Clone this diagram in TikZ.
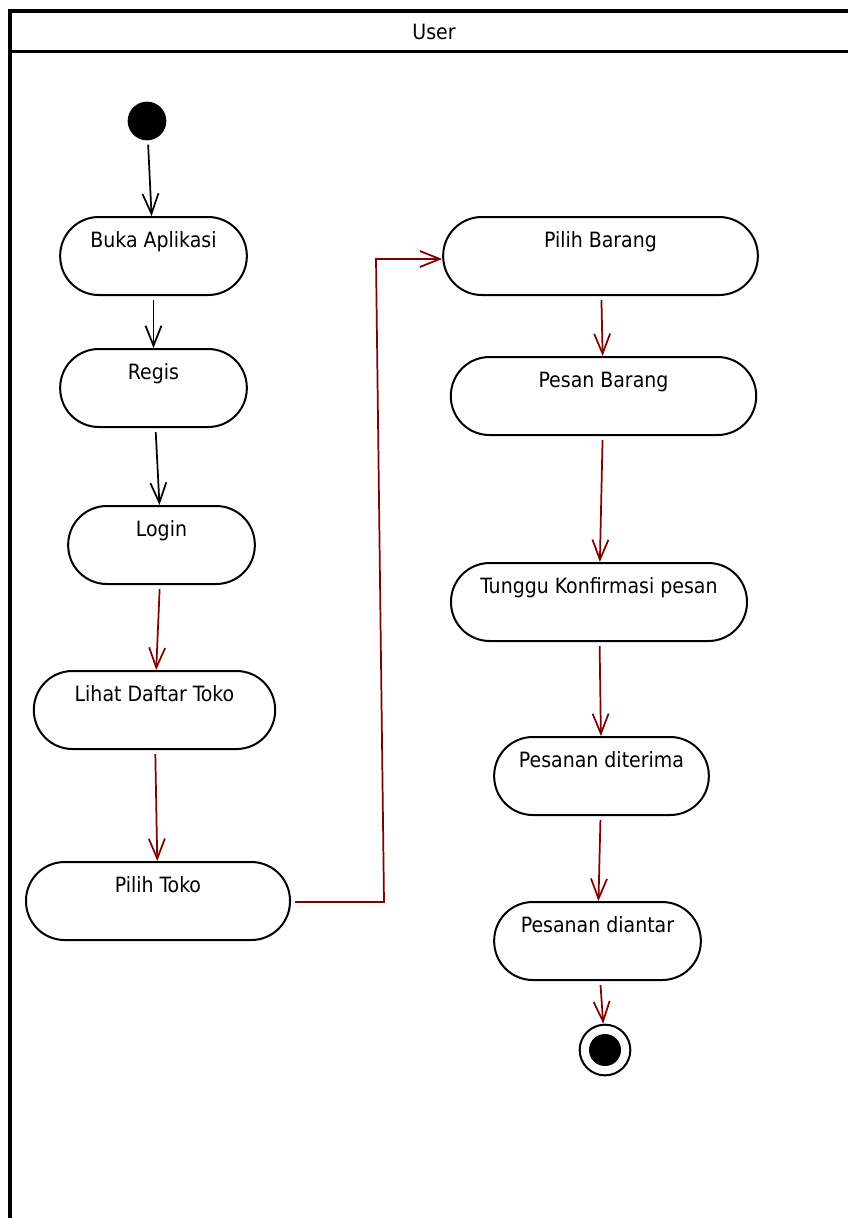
\documentclass[tikz,border=0pt]{standalone}
\usepackage{fontspec}
\setmainfont{DejaVu Sans Condensed}
\usetikzlibrary{arrows.meta}
\definecolor{flowred}{RGB}{128,0,0}

\begin{document}
\begin{tikzpicture}[
    x=0.75pt, y=-0.75pt,
    act/.style={draw, line width=1.5pt, rounded corners=29pt,
                minimum height=58.5pt, inner sep=0pt,
                text height=11pt, text depth=24pt,
                font=\fontsize{15.8}{18}\selectfont},
    initial/.style={circle, fill=black, minimum size=29pt, inner sep=0pt},
    final/.style={circle, draw, line width=1.5pt, minimum size=38pt, inner sep=0pt},
    lanelbl/.style={font=\fontsize{15.8}{18}\selectfont},
    flow/.style={-{Straight Barb[length=15pt, width=12pt]}, line width=1.3pt,
                 shorten <=3pt},
    redflow/.style={flow, draw=flowred},
]
\useasboundingbox (0,0) rectangle (848,1218);

% ── Swimlane ─────────────────────────────────────────────────────────────
\draw[line width=3pt] (848,11) -- (9.5,11) -- (9.5,1218);
\draw[line width=2.25pt] (9.5,51) -- (848,51);
\node[lanelbl] (lane) at (434,32) {User};

% ── Left column ──────────────────────────────────────────────────────────
\node[initial] (start) at (147,121) {};
\node[act, minimum width=140pt] (buka)  at (153.5,256) {Buka Aplikasi};
\node[act, minimum width=140pt] (regis) at (153.5,388) {Regis};
\node[act, minimum width=140pt] (login) at (161.5,545) {Login};
\node[act, minimum width=181pt] (lihat) at (154.5,710) {Lihat Daftar Toko};
\node[act, minimum width=198pt] (ptoko) at (158,901)   {Pilih Toko};

% ── Right column ─────────────────────────────────────────────────────────
\node[act, minimum width=236pt] (pbarang) at (600.5,256) {Pilih Barang};
\node[act, minimum width=229pt] (pesan)   at (603.5,396) {Pesan Barang};
\node[act, minimum width=222pt] (tunggu)  at (599,602)   {Tunggu Konfirmasi pesan};
\node[act, minimum width=161pt] (terima)  at (601.5,776) {Pesanan diterima};
\node[act, minimum width=155pt] (antar)   at (597.5,941) {Pesanan diantar};
\node[final] (stop) at (605,1050) {};
\fill (stop.center) circle[radius=12pt];

% ── Flows ────────────────────────────────────────────────────────────────
\draw[flow] (start) -- (buka);
\draw[flow] (buka) -- (regis);
\draw[flow] (regis) -- (login);
\draw[redflow] (login) -- (lihat);
\draw[redflow] (lihat) -- (ptoko);
\coordinate (bendA) at (384,902);
\coordinate (bendB) at (376,259);
\draw[redflow] (ptoko.east |- bendA) -- (bendA) -- (bendB) -- (pbarang.west |- bendB);
\draw[redflow] (pbarang) -- (pesan);
\draw[redflow] (pesan) -- (tunggu);
\draw[redflow] (tunggu) -- (terima);
\draw[redflow] (terima) -- (antar);
\draw[redflow] (antar) -- (stop);

\end{tikzpicture}
\end{document}
